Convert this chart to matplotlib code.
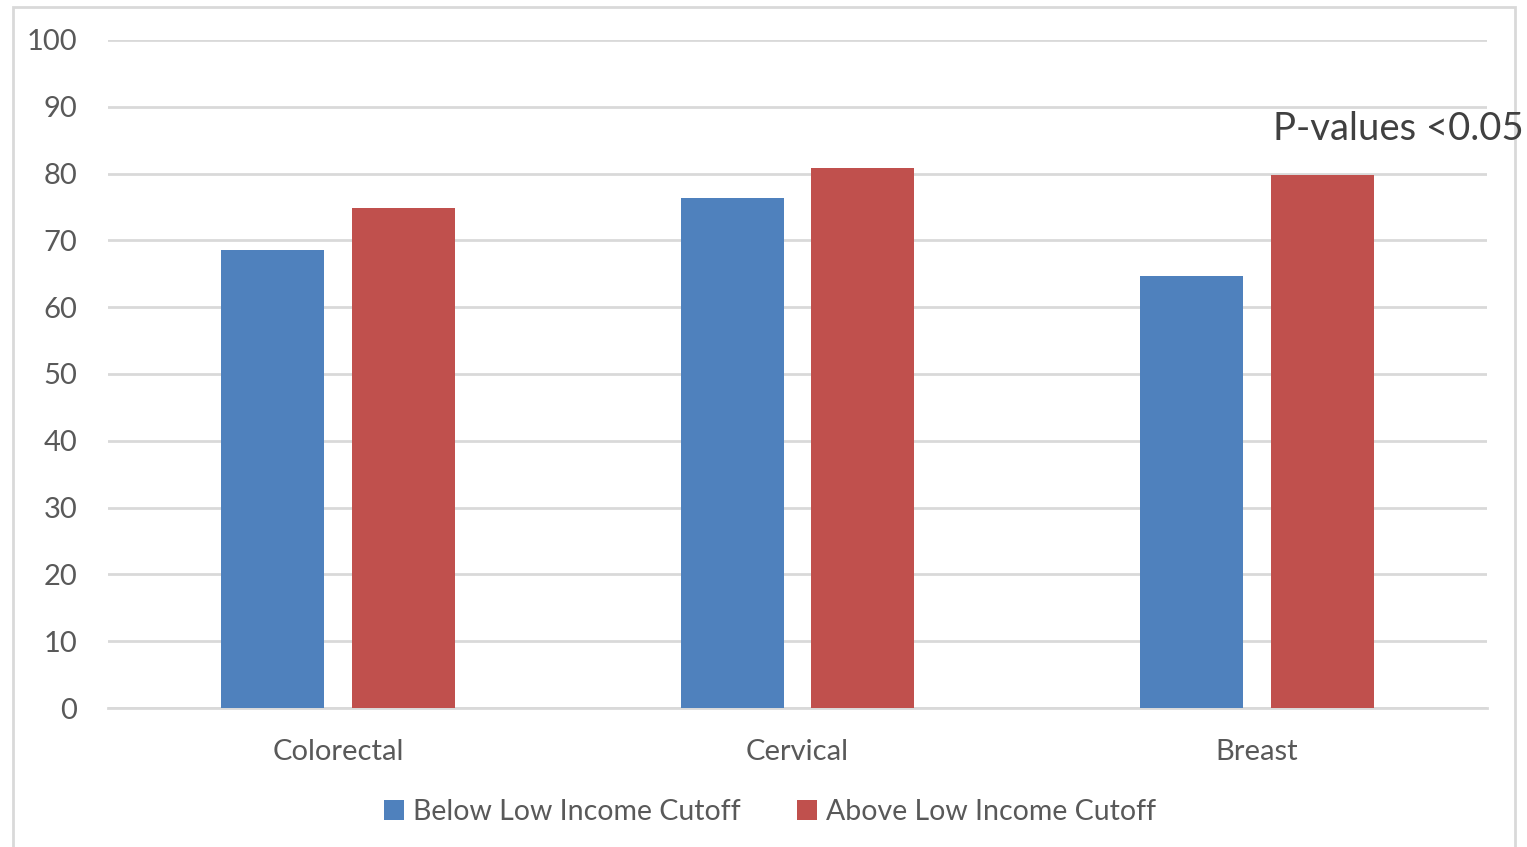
import matplotlib
matplotlib.use('Agg')
import matplotlib.pyplot as plt
from matplotlib.patches import Rectangle
import numpy as np

# Data
categories = ['Colorectal', 'Cervical', 'Breast']
below_cutoff = [68.5, 76.3, 64.7]
above_cutoff = [74.9, 80.8, 79.8]
series_names = ['Below Low Income Cutoff', 'Above Low Income Cutoff']

plt.rcParams['font.family'] = ['Lato', 'DejaVu Sans']
text_color = '#595959'
grid_color = '#D9D9D9'

fig = plt.figure(figsize=(15.27, 8.47), dpi=100)
ax = fig.add_axes([108 / 1527, 1 - 708 / 847, 1379 / 1527, 668 / 847])

x = np.arange(len(categories))
width = 0.224
offset = 0.142
ax.bar(x - offset, below_cutoff, width, color='#4F81BD', label=series_names[0], zorder=3)
ax.bar(x + offset, above_cutoff, width, color='#C0504D', label=series_names[1], zorder=3)

ax.set_xlim(-0.5, 2.5)
ax.set_ylim(0, 100)
ax.set_yticks(np.arange(0, 101, 10))
ax.set_xticks(x)
ax.set_xticklabels(categories)
ax.grid(axis='y', color=grid_color, linewidth=2, zorder=0)
for side in ['top', 'right', 'left']:
    ax.spines[side].set_visible(False)
ax.spines['bottom'].set_color(grid_color)
ax.spines['bottom'].set_linewidth(2)
ax.tick_params(axis='both', length=0, labelsize=21, colors=text_color)
ax.tick_params(axis='y', pad=22)
ax.tick_params(axis='x', pad=22.5)

leg = fig.legend(loc='center', bbox_to_anchor=(770 / 1527, 1 - 812 / 847), ncol=2,
                 frameon=False, fontsize=20.5, handlelength=0.7, handleheight=0.7,
                 handletextpad=0.3, columnspacing=2.0)
for t in leg.get_texts():
    t.set_color(text_color)

fig.text(1273 / 1527, 1 - 140 / 847, 'P-values <0.05', fontsize=27.5, color='#404040')

# outer chart border
fig.patches.append(Rectangle((13 / 1527, -0.05), 1502 / 1527, 1.05 - 7 / 847,
                             transform=fig.transFigure, fill=False,
                             edgecolor='#D9D9D9', linewidth=2))

fig.savefig('out.png', dpi=100)
